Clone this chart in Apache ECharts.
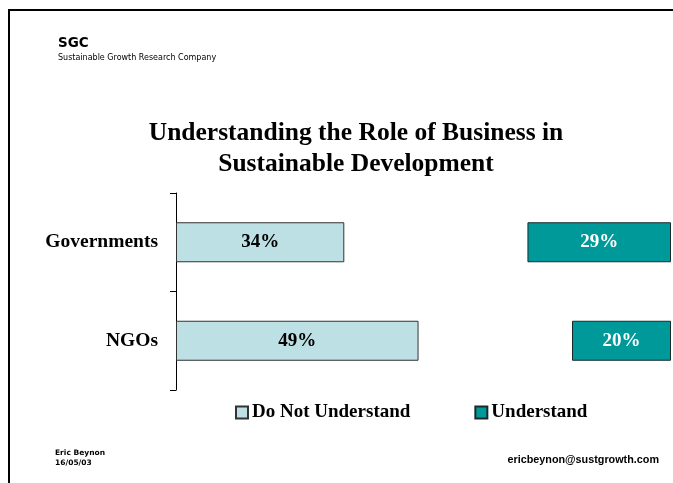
<!DOCTYPE html>
<html>
<head>
<meta charset="utf-8">
<style>
  html, body { margin: 0; padding: 0; background: #ffffff; }
  #chart { width: 673px; height: 483px; }
</style>
<script src="https://cdn.jsdelivr.net/npm/echarts@6/dist/echarts.min.js"></script>
</head>
<body>
<div id="chart"></div>
<script>
// Survey groups and their responses (percent)
const categories = ['Governments', 'NGOs'];
const doNotUnderstand = [34, 49];
const understand = [29, 20];

const serif = '"Liberation Serif", "Times New Roman", serif';
const sans = '"Liberation Sans", Arial, sans-serif';
const humanist = '"DejaVu Sans", "Noto Sans", sans-serif';

const chart = echarts.init(document.getElementById('chart'), null, { renderer: 'canvas' });

chart.setOption({
  animation: false,
  backgroundColor: '#ffffff',
  title: {
    text: 'Understanding the Role of Business in\nSustainable Development',
    left: 351,
    top: 113,
    textAlign: 'center',
    textStyle: {
      fontFamily: serif,
      fontWeight: 'bold',
      fontSize: 25.5,
      lineHeight: 31,
      color: '#000000'
    }
  },
  legend: {
    data: ['Do Not Understand', 'Understand'],
    left: 230,
    top: 398,
    itemWidth: 12,
    itemHeight: 12,
    itemGap: 64,
    icon: 'rect',
    textStyle: {
      fontFamily: serif,
      fontWeight: 'bold',
      fontSize: 19,
      color: '#000000',
      padding: [0, 0, 0, -1]
    }
  },
  grid: { left: 176, right: 2, top: 193, bottom: 93, containLabel: false },
  xAxis: [
    { type: 'value', min: 0, max: 100, show: false },
    { type: 'value', min: 0, max: 100, show: false, inverse: true }
  ],
  yAxis: {
    type: 'category',
    data: categories,
    inverse: true,
    axisLine: { show: true, lineStyle: { color: '#000000', width: 1 } },
    axisTick: { show: true, length: 6, lineStyle: { color: '#000000' } },
    axisLabel: {
      margin: 18,
      fontFamily: serif,
      fontWeight: 'bold',
      fontSize: 19.5,
      color: '#000000'
    },
    splitLine: { show: false }
  },
  series: [
    {
      name: 'Do Not Understand',
      type: 'bar',
      xAxisIndex: 0,
      data: doNotUnderstand,
      barWidth: 40,
      barGap: '-100%',
      itemStyle: { color: '#BCE0E3', borderColor: '#333333', borderWidth: 1 },
      label: {
        show: true,
        position: 'inside',
        formatter: '{c}%',
        fontFamily: serif,
        fontWeight: 'bold',
        fontSize: 19,
        color: '#000000'
      }
    },
    {
      name: 'Understand',
      type: 'bar',
      xAxisIndex: 1,
      data: understand,
      barWidth: 40,
      barGap: '-100%',
      itemStyle: { color: '#009999', borderColor: '#1a2a2a', borderWidth: 1 },
      label: {
        show: true,
        position: 'inside',
        formatter: '{c}%',
        fontFamily: serif,
        fontWeight: 'bold',
        fontSize: 19,
        color: '#ffffff'
      }
    }
  ],
  graphic: [
    {
      type: 'rect',
      shape: { x: 9, y: 10, width: 700, height: 500 },
      style: { fill: 'none', stroke: '#000000', lineWidth: 2 },
      silent: true
    },
    {
      type: 'text', left: 58, top: 36,
      style: { text: 'SGC', fontFamily: humanist, fontWeight: 'bold', fontSize: 13.5, fill: '#000000' }
    },
    {
      type: 'text', left: 58, top: 54,
      style: { text: 'Sustainable Growth Research Company', fontFamily: humanist, fontSize: 8, fill: '#000000' }
    },
    {
      type: 'text', left: 55, top: 449,
      style: { text: 'Eric Beynon', fontFamily: humanist, fontWeight: 'bold', fontSize: 7.5, fill: '#000000' }
    },
    {
      type: 'text', left: 55, top: 459,
      style: { text: '16/05/03', fontFamily: humanist, fontWeight: 'bold', fontSize: 7.5, fill: '#000000' }
    },
    {
      type: 'text', right: 14, top: 455,
      style: { text: 'ericbeynon@sustgrowth.com', fontFamily: sans, fontWeight: 'bold', fontSize: 10.8, fill: '#000000' }
    }
  ]
});
</script>
</body>
</html>
